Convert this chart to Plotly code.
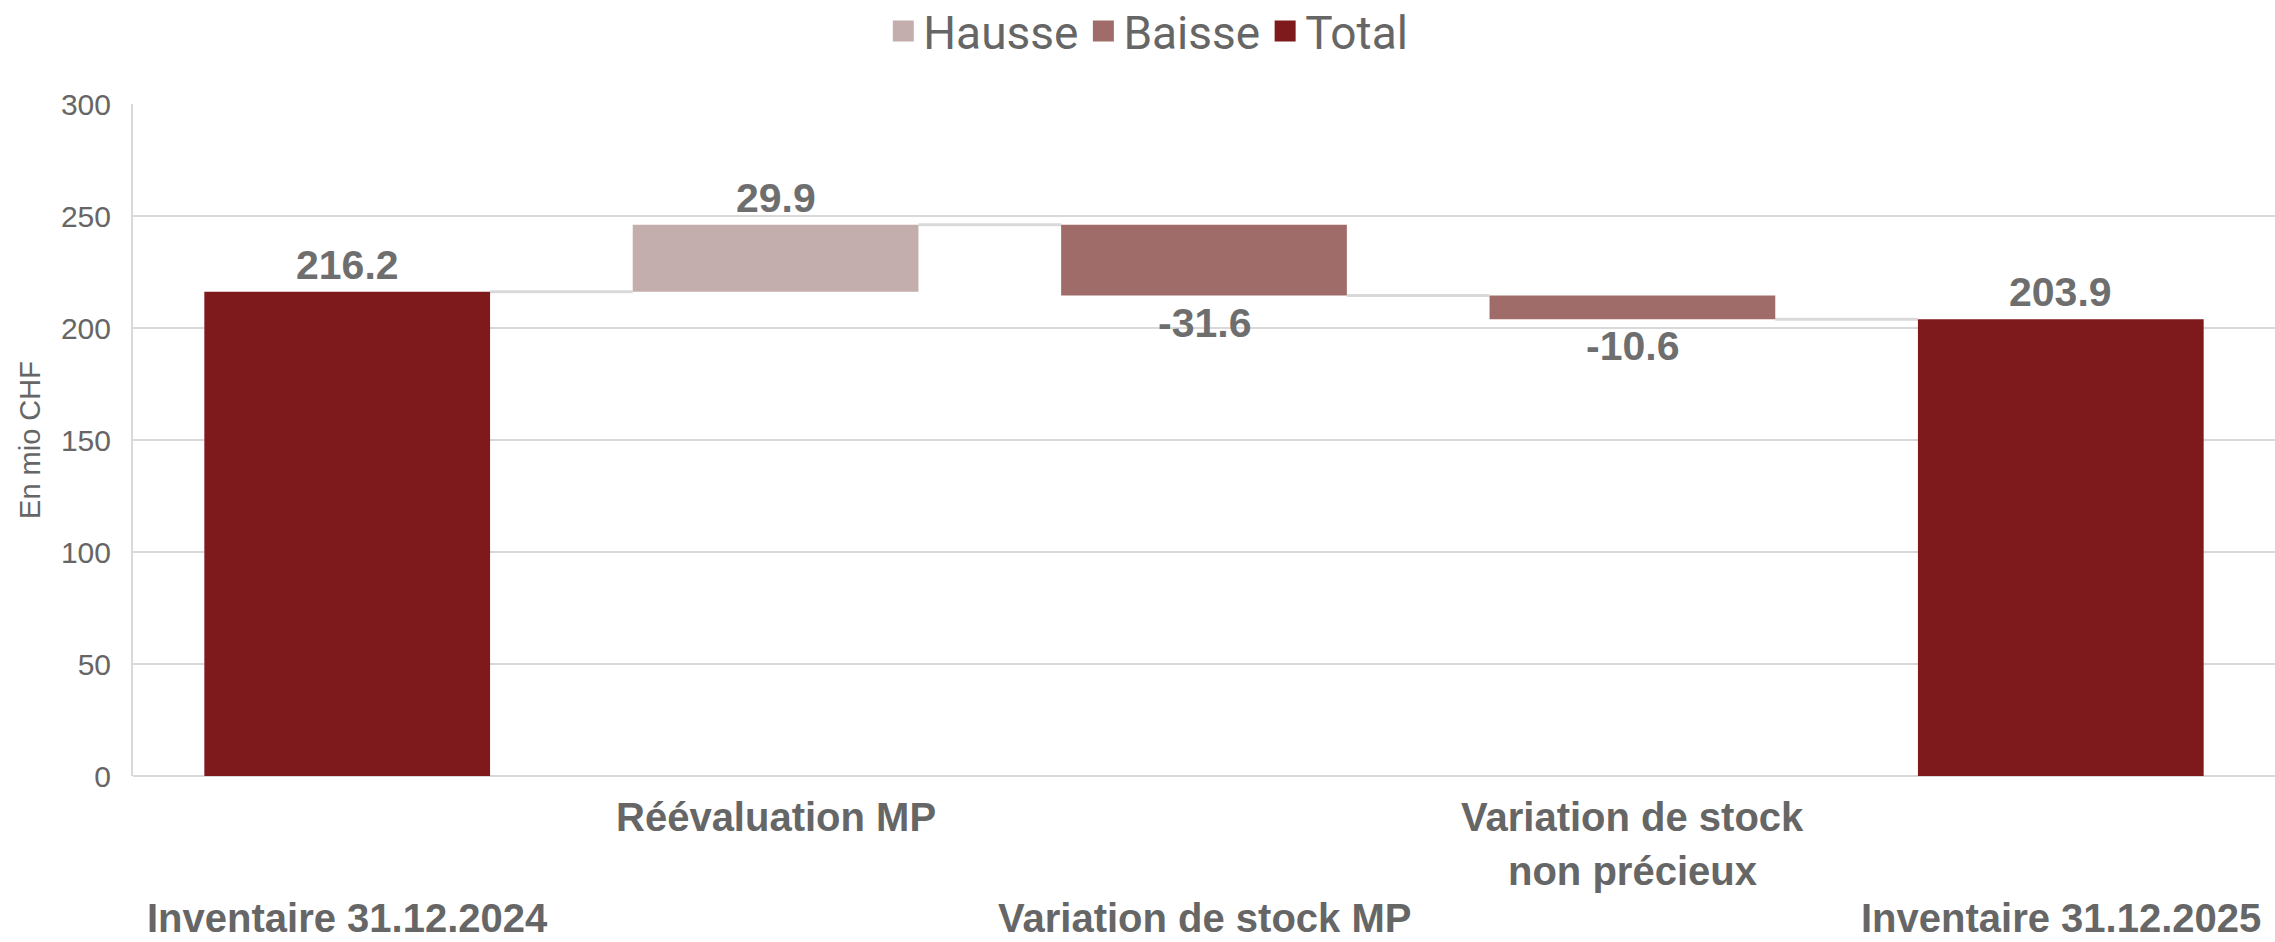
import plotly.graph_objects as go

# ---- data ----
categories = ["Inventaire 31.12.2024", "Réévaluation MP", "Variation de stock MP",
              "Variation de stock<br>non précieux", "Inventaire 31.12.2025"]
measures = ["total", "relative", "relative", "relative", "total"]
values = [216.2, 29.9, -31.6, -10.6, 203.9]
y_ticks = [0, 50, 100, 150, 200, 250, 300]
legend_names = ["Hausse", "Baisse", "Total"]

colors = {"Hausse": "#C4AEAD", "Baisse": "#A06C6A", "Total": "#7F1A1C"}
text_gray = "#666666"
grid_gray = "#D9D9D9"
BAR_W = 0.667
ROW_SHIFTS = [41, 95, 142]

# running levels
bases, ends, groups = [], [], []
level = 0.0
for m, v in zip(measures, values):
    if m == "total":
        b = 0.0
        level = v
        groups.append("Total")
    else:
        b = level
        level = level + v
        groups.append("Hausse" if v > 0 else "Baisse")
    bases.append(b)
    ends.append(b + v)

fig = go.Figure()
for g in legend_names:
    idx = [i for i, gg in enumerate(groups) if gg == g]
    fig.add_trace(go.Bar(
        x=[categories[i] for i in idx],
        y=[values[i] for i in idx],
        base=[bases[i] for i in idx],
        width=BAR_W,
        marker=dict(color=colors[g], line=dict(width=0)),
        name=g, showlegend=False, hoverinfo="skip",
    ))
# legend entries
for g in legend_names:
    fig.add_trace(go.Scatter(
        x=[None], y=[None], mode="markers", name=g,
        marker=dict(symbol="square", size=16, color=colors[g],
                    line=dict(color=colors[g], width=5)),
    ))

# connectors
for i in range(len(categories) - 1):
    lvl = ends[i]
    fig.add_shape(type="line", xref="x", yref="y",
                  x0=i + BAR_W / 2, x1=i + 1 - BAR_W / 2, y0=lvl, y1=lvl,
                  line=dict(color=grid_gray, width=3), layer="below")

annotations = []
# data labels
for i, (v, g) in enumerate(zip(values, groups)):
    top = max(bases[i], ends[i])
    bot = min(bases[i], ends[i])
    if g == "Baisse":
        y, shift = bot, -27
    else:
        y, shift = top, 27
    annotations.append(dict(
        x=categories[i], y=y, xref="x", yref="y", yshift=shift,
        text=f"{v:.1f}", showarrow=False, yanchor="middle",
        font=dict(family="Liberation Sans, Arial", size=41, color="#6E6E6E", weight="bold"),
    ))
# category labels (staggered)
for i, c in enumerate(categories):
    row0 = 0 if i % 2 == 1 else 2
    for j, line in enumerate(c.split("<br>")):
        row = row0 + j
        annotations.append(dict(
            x=c, y=0, xref="x", yref="paper", yshift=-ROW_SHIFTS[row],
            text=line, showarrow=False, yanchor="middle",
            font=dict(family="Liberation Sans, Arial", size=40, color=text_gray, weight="bold"),
        ))

fig.update_layout(
    width=2275, height=942,
    margin=dict(l=133, r=0, t=104, b=166, autoexpand=False),
    paper_bgcolor="white", plot_bgcolor="white",
    barmode="overlay",
    font=dict(family="Liberation Sans, Arial", color=text_gray),
    showlegend=True,
    legend=dict(orientation="h", x=0.474, xanchor="center", y=1.1086, yanchor="middle",
                font=dict(family="Roboto, Liberation Sans", size=46, color=text_gray),
                itemclick=False, itemdoubleclick=False, tracegroupgap=0),
    xaxis=dict(type="category", categoryorder="array", categoryarray=categories,
               range=[-0.5, 4.5], showticklabels=False, showgrid=False,
               ticks="", showline=False, zeroline=False, fixedrange=True),
    yaxis=dict(range=[0, 300], tickvals=y_ticks, showgrid=True, gridcolor=grid_gray, gridwidth=2,
               showline=True, linecolor=grid_gray, linewidth=2, zeroline=True,
               zerolinecolor=grid_gray, zerolinewidth=2, ticks="", ticklabelstandoff=14,
               tickfont=dict(family="Liberation Sans, Arial", size=30, color=text_gray),
               title=dict(text="En mio CHF", standoff=12,
                          font=dict(family="Liberation Sans, Arial", size=29, color=text_gray)),
               automargin=False, fixedrange=True),
    annotations=annotations,
)

fig.write_html("out.html", config={"displayModeBar": False},
               post_script="document.body.style.margin='0';")
